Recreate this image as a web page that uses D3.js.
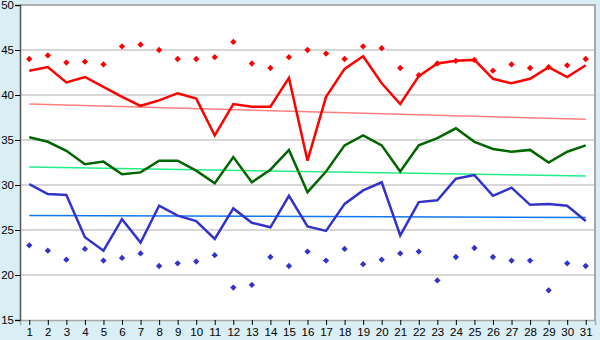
<!DOCTYPE html>
<html>
<head>
<meta charset="utf-8">
<script src="https://cdn.jsdelivr.net/npm/d3@7"></script>
<style>
  body { margin: 0; background: #d9eef5; }
  svg { display: block; }
  text { font-family: "Liberation Sans", Arial, sans-serif; font-size: 11px; fill: #000; }
</style>
</head>
<body>
<svg id="chart" width="600" height="340"></svg>
<script>
const days = d3.range(1, 32);
const yTicks = [15, 20, 25, 30, 35, 40, 45, 50];

const redLine = [42.7, 43.1, 41.4, 42.0, 40.9, 39.8, 38.8, 39.4, 40.2, 39.6, 35.5, 39.0, 38.7, 38.7, 41.9, 32.7,
  39.8, 42.9, 44.3, 41.3, 39.0, 42.1, 43.5, 43.8, 43.9, 41.8, 41.3, 41.8, 43.1, 42.0, 43.3];
const redDots = [44.0, 44.4, 43.6, 43.7, 43.4, 45.4, 45.6, 45.0, 44.0, 44.0, 44.2, 45.9, 43.5, 43.0, 44.2, 45.0,
  44.6, 44.0, 45.4, 45.2, 43.0, 42.2, 43.5, 43.8, 43.9, 42.7, 43.4, 43.0, 43.1, 43.3, 44.0];
const greenLine = [35.3, 34.8, 33.8, 32.3, 32.6, 31.2, 31.4, 32.7, 32.7, 31.6, 30.2, 33.1, 30.3, 31.7, 33.9, 29.2,
  31.5, 34.4, 35.5, 34.4, 31.5, 34.4, 35.2, 36.3, 34.8, 34.0, 33.7, 33.9, 32.5, 33.7, 34.4];
const blueLine = [30.1, 29.0, 28.9, 24.2, 22.7, 26.2, 23.6, 27.7, 26.6, 26.0, 24.0, 27.4, 25.8, 25.3, 28.8, 25.4,
  24.9, 27.9, 29.4, 30.3, 24.4, 28.1, 28.3, 30.7, 31.1, 28.8, 29.7, 27.8, 27.9, 27.7, 26.0];
const blueDots = [23.3, 22.7, 21.7, 22.9, 21.6, 21.9, 22.4, 21.0, 21.3, 21.5, 22.2, 18.6, 18.9, 22.0, 21.0, 22.6,
  21.6, 22.9, 21.2, 21.7, 22.4, 22.6, 19.4, 22.0, 23.0, 22.0, 21.6, 21.6, 18.3, 21.3, 21.0];

// trend lines, value at first and last day
const trendDays = [1, 31];
const redTrend = [39.0, 37.3];
const greenTrend = [32.0, 31.0];
const blueTrend = [26.6, 26.4];

const svg = d3.select("#chart");
const width = +svg.attr("width");
const height = +svg.attr("height");
const margin = { top: 5, right: 5, bottom: 20, left: 20 };

const x = d3.scalePoint().domain(days).range([margin.left, width - margin.right]).padding(0.5);
const y = d3.scaleLinear().domain([15, 50]).range([height - margin.bottom, margin.top]);

svg.append("rect")
    .attr("x", margin.left).attr("y", margin.top)
    .attr("width", width - margin.left - margin.right)
    .attr("height", height - margin.top - margin.bottom)
    .attr("fill", "#fff");

// grid
svg.append("g").selectAll("line")
    .data(yTicks.filter(d => d > 15))
    .join("line")
    .attr("x1", margin.left).attr("x2", width - margin.right)
    .attr("y1", d => y(d)).attr("y2", d => y(d))
    .attr("stroke", "#b0b0b0").attr("stroke-width", d => d === 50 ? 2 : 1.2);

svg.append("line")
    .attr("x1", width - margin.right).attr("x2", width - margin.right)
    .attr("y1", margin.top - 1).attr("y2", height - margin.bottom)
    .attr("stroke", "#a8a8a8").attr("stroke-width", 2);

const xAxis = svg.append("g")
    .attr("transform", `translate(0,${height - margin.bottom})`)
    .call(d3.axisBottom(x).tickSize(5).tickPadding(3));
xAxis.select(".domain").attr("stroke", "#a8a8a8").attr("stroke-width", 1.5);
xAxis.selectAll(".tick line").attr("stroke", "#000");
xAxis.selectAll("text").style("font-size", "11.5px").attr("fill", "#000");

const yAxis = svg.append("g")
    .attr("transform", `translate(${margin.left},0)`)
    .call(d3.axisLeft(y).tickValues(yTicks).tickSize(5).tickPadding(1));
yAxis.select(".domain").attr("stroke", "#555").attr("stroke-width", 1.5);
yAxis.selectAll(".tick line").attr("stroke", "#000");
yAxis.selectAll("text").style("font-size", "11.5px").attr("fill", "#000");

const line = d3.line().x((d, i) => x(days[i])).y(d => y(d));
const trend = d3.line().x((d, i) => x(trendDays[i])).y(d => y(d));

const trends = [[redTrend, "#ff7f7f"], [greenTrend, "#22ee88"], [blueTrend, "#1177ee"]];
trends.forEach(([data, color]) => {
    svg.append("path").datum(data)
        .attr("d", trend)
        .attr("fill", "none").attr("stroke", color).attr("stroke-width", 1.5);
});

const series = [[redLine, "#ff0000"], [greenLine, "#006600"], [blueLine, "#3333cc"]];
series.forEach(([data, color]) => {
    svg.append("path").datum(data)
        .attr("d", line)
        .attr("fill", "none").attr("stroke", color).attr("stroke-width", 2.5)
        .attr("stroke-linejoin", "miter");
});

// small square diamonds, rotated 45 degrees
const marker = d3.symbol().type(d3.symbolSquare).size(20);
[[redDots, "#ff0000"], [blueDots, "#3333cc"]].forEach(([data, color]) => {
    svg.append("g").selectAll("path")
        .data(data)
        .join("path")
        .attr("d", marker)
        .attr("transform", (d, i) => `translate(${x(days[i])},${y(d)}) rotate(45)`)
        .attr("fill", color);
});
</script>
</body>
</html>
